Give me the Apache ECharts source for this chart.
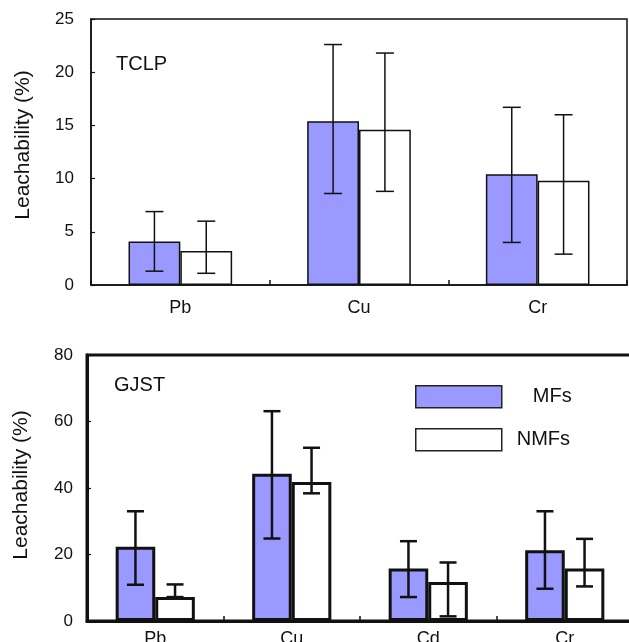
<!DOCTYPE html>
<html>
<head>
<meta charset="utf-8">
<script src="https://cdn.jsdelivr.net/npm/echarts@6/dist/echarts.min.js"></script>
<style>
  html, body { margin: 0; padding: 0; background: #fff; }
  #chart { width: 629px; height: 642px; }
</style>
</head>
<body>
<div id="chart"></div>
<script>
// Leachability of metals from MFs / NMFs under two leaching tests
const tclpMetals = ['Pb', 'Cu', 'Cr'];
const tclpMF = [4.1, 15.4, 10.4];
const tclpMFLow = [1.3, 8.6, 4.0];
const tclpMFHigh = [6.9, 22.6, 16.7];
const tclpNMF = [3.2, 14.6, 9.8];
const tclpNMFLow = [1.1, 8.8, 2.9];
const tclpNMFHigh = [6.0, 21.8, 16.0];

const gjstMetals = ['Pb', 'Cu', 'Cd', 'Cr'];
const gjstMF = [22.3, 44.3, 15.8, 21.3];
const gjstMFLow = [10.9, 24.8, 7.2, 9.7];
const gjstMFHigh = [33.0, 63.1, 24.0, 33.0];
const gjstNMF = [7.2, 41.8, 11.7, 15.8];
const gjstNMFLow = [7.2, 38.4, 1.4, 10.4];
const gjstNMFHigh = [11.0, 52.1, 17.6, 24.7];

const tclpTicks = [0, 25, 5];   // min, max, step
const gjstTicks = [0, 80, 20];

const FONT = 'Liberation Sans, Arial, sans-serif';
const BAR_COLOR = '#9999ff';
const BAR_WIDTH = 0.29;

function errorData(low, high, side) {
  return low.map((lo, i) => [i, lo, high[i], side]);
}

function errorRenderer(lineWidth, capHalf) {
  return function (params, api) {
    const cat = api.value(0);
    const lo = api.value(1);
    const hi = api.value(2);
    const side = api.value(3);
    const band = api.size([1, 0])[0];
    const bw = band * BAR_WIDTH;
    const x = api.coord([cat, 0])[0] + (side === 0 ? -bw / 2 : bw / 2);
    const yTop = api.coord([cat, hi])[1];
    const yBot = api.coord([cat, lo])[1];
    const style = { stroke: '#111', lineWidth: lineWidth };
    return {
      type: 'group',
      children: [
        { type: 'line', shape: { x1: x, y1: yTop, x2: x, y2: yBot }, style: style },
        { type: 'line', shape: { x1: x - capHalf, y1: yTop, x2: x + capHalf, y2: yTop }, style: style },
        { type: 'line', shape: { x1: x - capHalf, y1: yBot, x2: x + capHalf, y2: yBot }, style: style }
      ]
    };
  };
}

function yAxis(grid, ticks, lw, labelMargin, nameGap, namePad) {
  return {
    type: 'value', gridIndex: grid,
    min: ticks[0], max: ticks[1], interval: ticks[2],
    axisLine: { show: true, lineStyle: { color: '#111', width: lw } },
    axisTick: { show: true, inside: true, length: 4, lineStyle: { color: '#111', width: 1.2 } },
    splitLine: { show: false },
    axisLabel: { color: '#111', fontSize: 17, fontFamily: FONT, margin: labelMargin },
    name: 'Leachability (%)',
    nameLocation: 'middle', nameRotate: 90, nameGap: nameGap,
    nameTextStyle: { color: '#111', fontSize: 21, fontFamily: FONT, padding: namePad }
  };
}

function xAxis(grid, cats, lw, labelMargin) {
  return {
    type: 'category', gridIndex: grid, data: cats,
    axisLine: { show: true, lineStyle: { color: '#111', width: lw } },
    axisTick: { show: true, inside: true, length: 5, lineStyle: { color: '#111', width: 1.5 } },
    axisLabel: { color: '#111', fontSize: 18, fontFamily: FONT, margin: labelMargin },
    splitLine: { show: false }
  };
}

const chart = echarts.init(document.getElementById('chart'), null, { renderer: 'canvas' });

chart.setOption({
  animation: false,
  backgroundColor: '#fff',
  title: [
    { text: 'TCLP', left: 116, top: 54, padding: 0,
      textStyle: { fontSize: 20, fontWeight: 'normal', color: '#111', fontFamily: FONT } },
    { text: 'GJST', left: 114, top: 375, padding: 0,
      textStyle: { fontSize: 20, fontWeight: 'normal', color: '#111', fontFamily: FONT } }
  ],
  legend: [
    { data: ['MFs'], left: 415, top: 385, padding: 0, orient: 'vertical',
      itemWidth: 86, itemHeight: 22, icon: 'rect',
      itemStyle: { borderColor: '#222', borderWidth: 1.5 },
      textStyle: { fontSize: 20, color: '#111', fontFamily: FONT, padding: [8, 0, 0, 26] } },
    { data: ['NMFs'], left: 415, top: 428, padding: 0, orient: 'vertical',
      itemWidth: 86, itemHeight: 22, icon: 'rect',
      itemStyle: { borderColor: '#222', borderWidth: 1.5 },
      textStyle: { fontSize: 20, color: '#111', fontFamily: FONT, padding: [6, 0, 0, 10] } }
  ],
  grid: [
    { left: 91, top: 19, width: 536, height: 266, show: true,
      outerBoundsMode: 'none', containLabel: false,
      borderColor: '#111', borderWidth: 1.5, backgroundColor: 'transparent' },
    { left: 87, top: 355, width: 546, height: 266, show: true,
      outerBoundsMode: 'none', containLabel: false,
      borderColor: '#111', borderWidth: 3, backgroundColor: 'transparent' }
  ],
  xAxis: [
    xAxis(0, tclpMetals, 1.5, 14),
    xAxis(1, gjstMetals, 3, 9)
  ],
  yAxis: [
    yAxis(0, tclpTicks, 1.5, 17, 57, [0, 0, 0, 14]),
    yAxis(1, gjstTicks, 3, 14, 55, [0, 0, 0, 6])
  ],
  series: [
    { name: 'MFs', type: 'bar', xAxisIndex: 0, yAxisIndex: 0, data: tclpMF,
      barWidth: '29%', barGap: '0%',
      itemStyle: { color: BAR_COLOR, borderColor: '#111', borderWidth: 1.5 } },
    { name: 'NMFs', type: 'bar', xAxisIndex: 0, yAxisIndex: 0, data: tclpNMF,
      barWidth: '29%', barGap: '0%',
      itemStyle: { color: '#fff', borderColor: '#111', borderWidth: 1.5 } },
    { type: 'custom', xAxisIndex: 0, yAxisIndex: 0, z: 5,
      renderItem: errorRenderer(1.5, 9),
      data: errorData(tclpMFLow, tclpMFHigh, 0).concat(errorData(tclpNMFLow, tclpNMFHigh, 1)) },

    { name: 'MFs', type: 'bar', xAxisIndex: 1, yAxisIndex: 1, data: gjstMF,
      barWidth: '29%', barGap: '0%',
      itemStyle: { color: BAR_COLOR, borderColor: '#111', borderWidth: 3 } },
    { name: 'NMFs', type: 'bar', xAxisIndex: 1, yAxisIndex: 1, data: gjstNMF,
      barWidth: '29%', barGap: '0%',
      itemStyle: { color: '#fff', borderColor: '#111', borderWidth: 3 } },
    { type: 'custom', xAxisIndex: 1, yAxisIndex: 1, z: 5,
      renderItem: errorRenderer(2.5, 8.5),
      data: errorData(gjstMFLow, gjstMFHigh, 0).concat(errorData(gjstNMFLow, gjstNMFHigh, 1)) }
  ]
});
</script>
</body>
</html>
